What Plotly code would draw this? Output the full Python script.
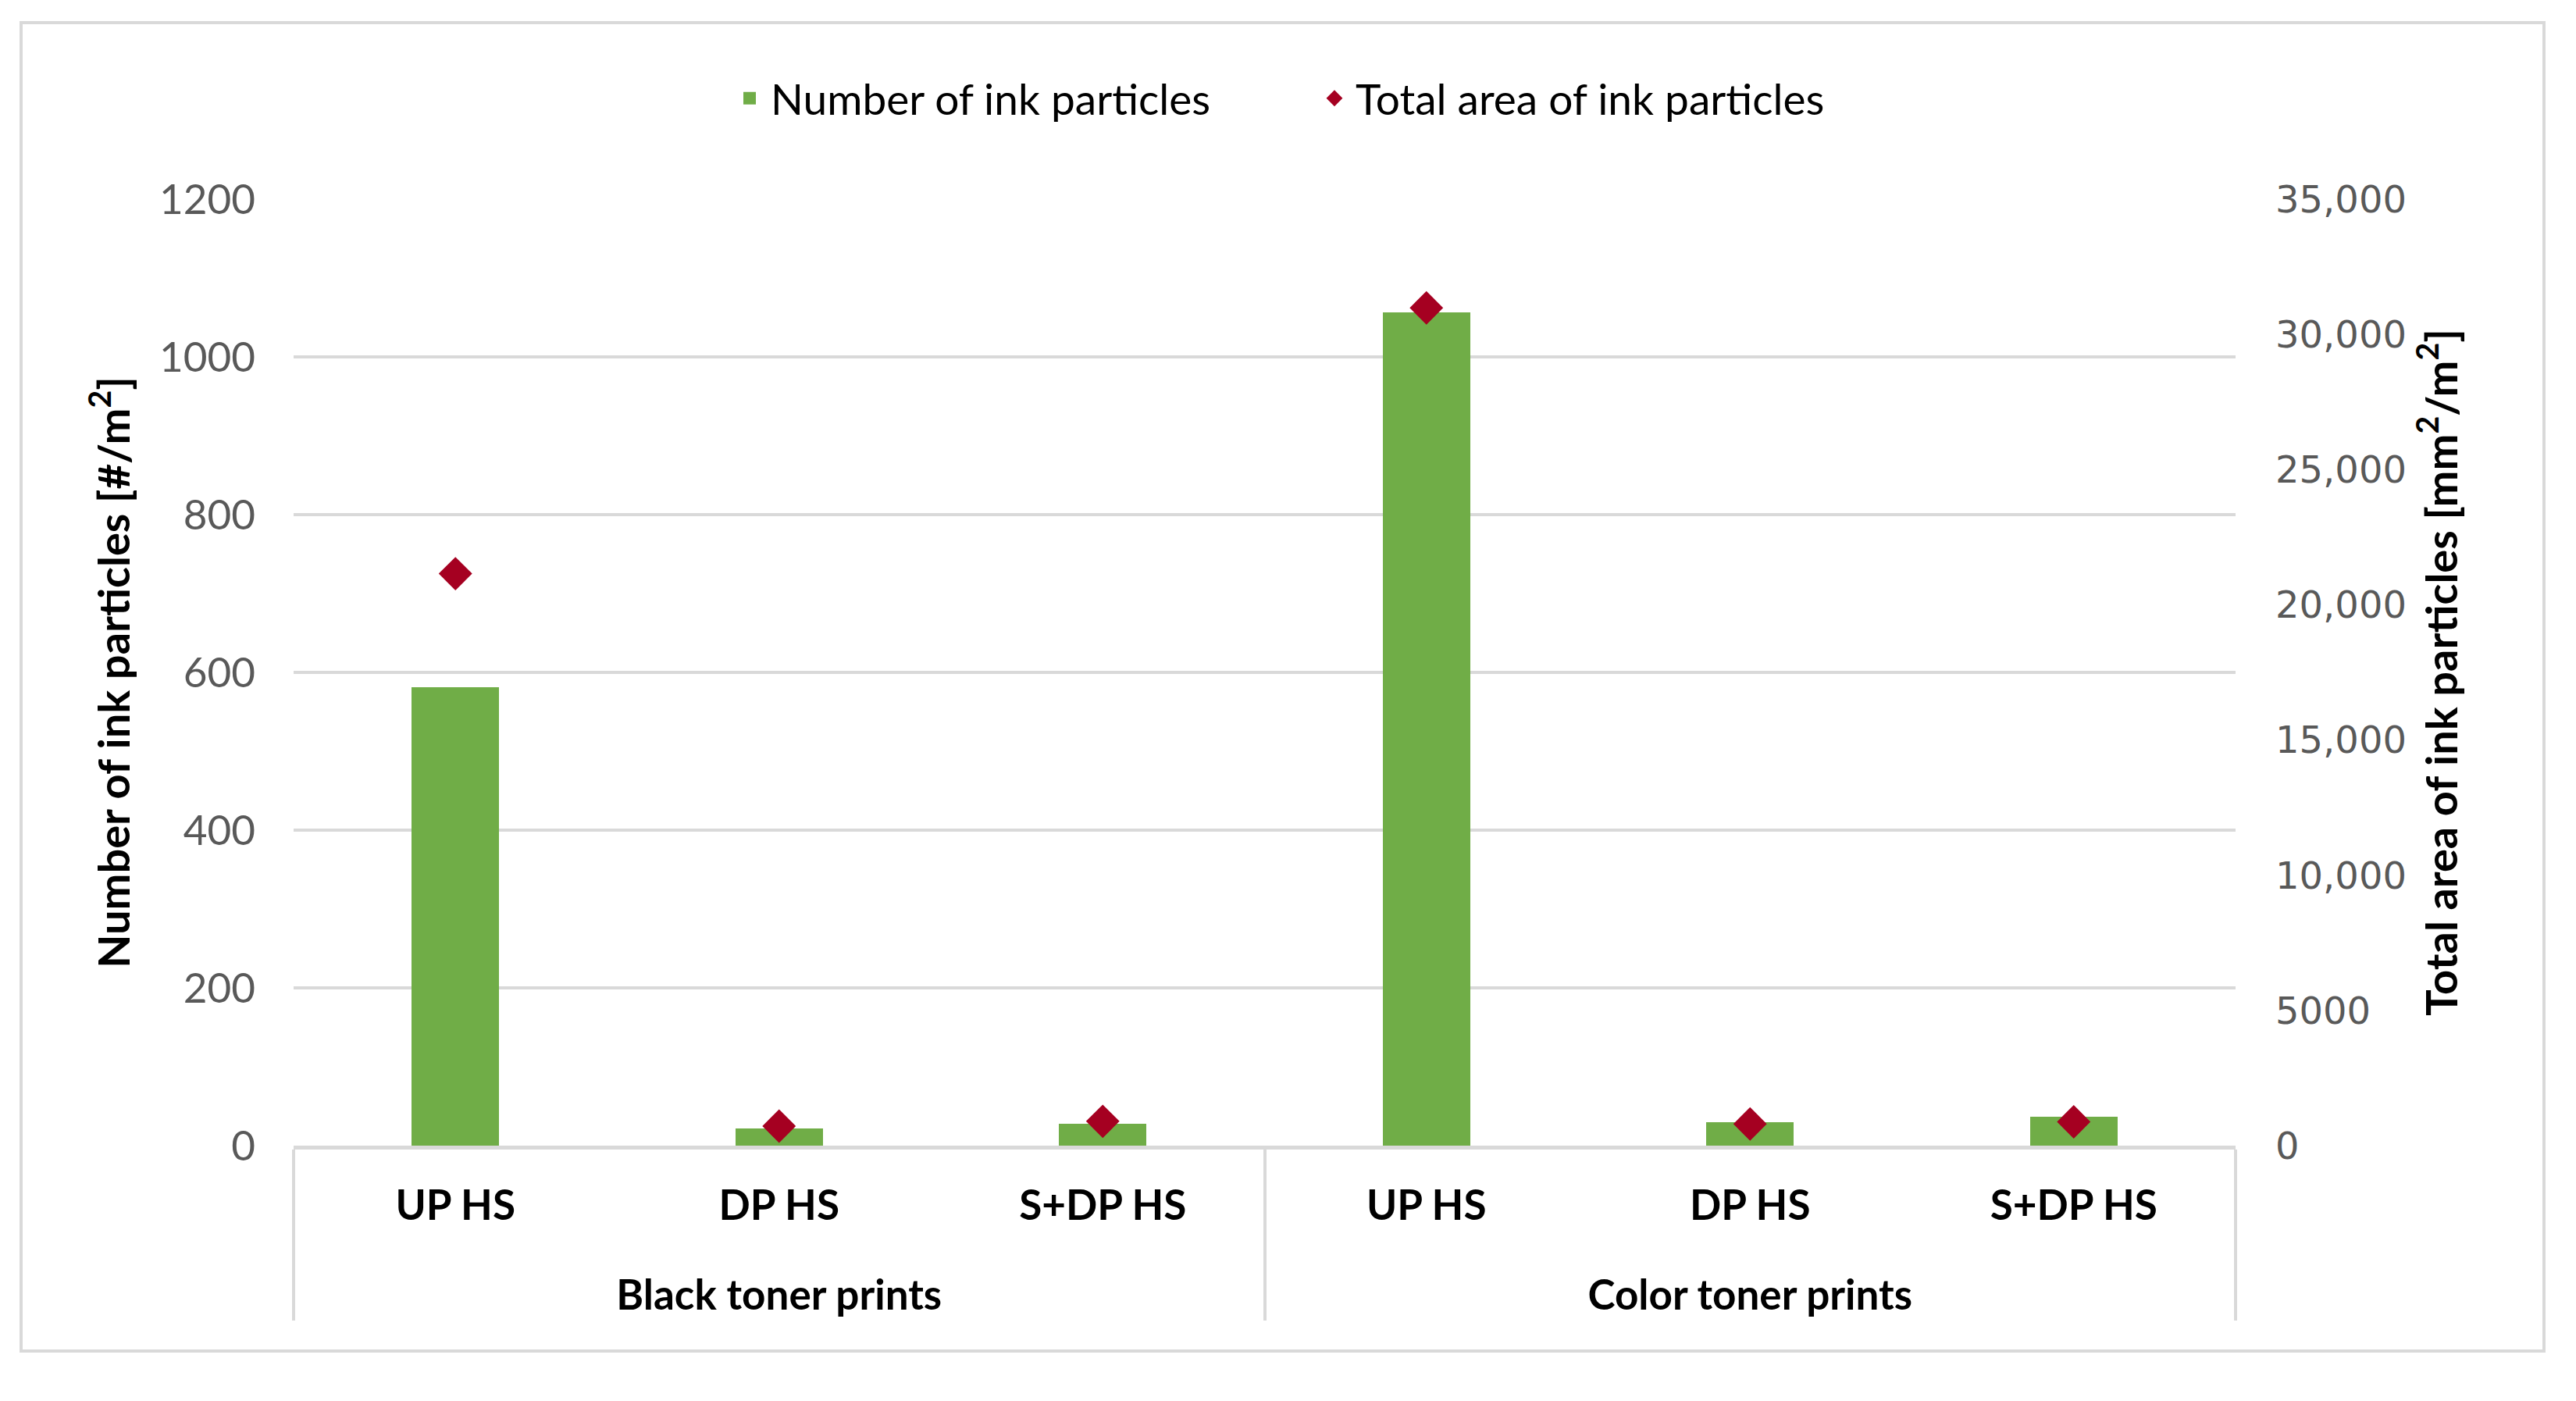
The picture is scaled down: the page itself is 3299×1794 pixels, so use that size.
import plotly.graph_objects as go

# ---- data ----
groups = ["Black toner prints"] * 3 + ["Color toner prints"] * 3
categories = ["UP HS", "DP HS", "S+DP HS", "UP HS", "DP HS", "S+DP HS"]
num_particles = [581, 22, 28, 1056, 30, 37]          # left axis [#/m2]
total_area = [21150, 720, 900, 30980, 800, 880]      # right axis [mm2/m2]
left_ticks = [0, 200, 400, 600, 800, 1000, 1200]
right_tickvals = [0, 5000, 10000, 15000, 20000, 25000, 30000, 35000]
right_ticktext = ["0", "5000", "10,000", "15,000", "20,000", "25,000", "30,000", "35,000"]

GREEN = "#70ad47"
RED = "#a50021"
GRID = "#d9d9d9"
FONT = "Lato"

OFF = 8  # page body margin
W, H = 3299 - 2 * OFF, 1794 - 2 * OFF
L = 376 - OFF
T = 255 - OFF
R = W - (2863 - OFF)
B = H - (1467 - OFF)
pw = W - L - R
ph = H - T - B


def px_x(page_x):
    return (page_x - OFF - L) / pw


def px_y(page_y):
    return (H - B - (page_y - OFF)) / ph


LABEL_SPAN = '<span style="font-size:53px">{}</span>'
x_groups = ["<br>" + LABEL_SPAN.format(g) for g in groups]
x_cats = [LABEL_SPAN.format(c) for c in categories]

fig = go.Figure()

fig.add_trace(go.Bar(
    x=[x_groups, x_cats], y=num_particles,
    marker=dict(color=GREEN, line=dict(width=0)),
    width=0.27, name="Number of ink particles", showlegend=False,
    legendgroup="n",
))
# legend proxy for the bars (larger square symbol)
fig.add_trace(go.Scatter(
    x=[None], y=[None], mode="markers",
    marker=dict(symbol="square", size=16, color=GREEN),
    name="Number of ink particles", legendgroup="n", showlegend=True,
))
fig.add_trace(go.Scatter(
    x=[x_groups, x_cats], y=total_area, yaxis="y2",
    mode="markers", marker=dict(symbol="diamond", size=33, color=RED),
    name="Total area of ink particles",
))

fig.update_layout(
    width=W, height=H,
    margin=dict(l=L, r=R, t=T, b=B, autoexpand=False),
    paper_bgcolor="white", plot_bgcolor="white",
    font=dict(family=FONT, size=48, color="black"),
    bargap=0,
    legend=dict(
        orientation="h", x=px_x(933), xanchor="left", y=px_y(126), yanchor="middle",
        font=dict(family=FONT, size=55, color="black"),
        itemsizing="trace", itemwidth=44, entrywidth=690, entrywidthmode="pixels",
        bgcolor="rgba(0,0,0,0)",
    ),
    xaxis=dict(
        type="multicategory",
        showline=True, linecolor=GRID, linewidth=5,
        showdividers=True, dividercolor=GRID, dividerwidth=4,
        ticks="", showgrid=False, zeroline=False,
        ticklabelstandoff=23,
        tickfont=dict(family=FONT, size=56, color="black", weight="bold"),
        automargin=False,
    ),
    yaxis=dict(
        range=[0, 1200], tickvals=left_ticks,
        showgrid=True, gridcolor=GRID, gridwidth=4,
        zeroline=False, showline=False, ticks="",
        ticklabelstandoff=48,
        tickfont=dict(family=FONT, size=53, color="#595959"),
        title=dict(text="Number of ink particles [#/m<sup>2</sup>]",
                   font=dict(family=FONT, size=56, color="black", weight="bold"),
                   standoff=19),
        automargin=False,
    ),
    yaxis2=dict(
        overlaying="y", side="right", range=[0, 35000],
        tickvals=right_tickvals, ticktext=right_ticktext,
        showgrid=False, zeroline=False, showline=False, ticks="",
        ticklabelstandoff=50,
        tickfont=dict(family="DejaVu Sans", size=48, color="#595959"),
        title=dict(text="Total area of ink particles [mm<sup>2</sup>/m<sup>2</sup>]",
                   font=dict(family=FONT, size=56, color="black", weight="bold"),
                   standoff=26),
        automargin=False,
    ),
    shapes=[dict(
        type="rect", xref="paper", yref="paper",
        x0=px_x(27), x1=px_x(3258),
        y0=px_y(1730), y1=px_y(29),
        line=dict(color=GRID, width=4), fillcolor="rgba(0,0,0,0)", layer="below",
    )],
)

fig.write_html("out.html")
